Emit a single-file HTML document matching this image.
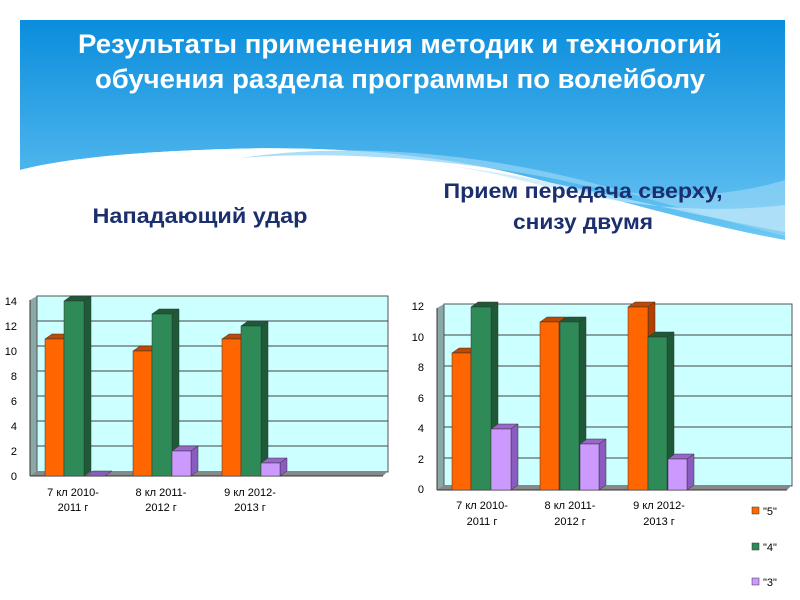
<!DOCTYPE html>
<html><head><meta charset="utf-8"><style>
body{margin:0;width:800px;height:600px;background:#fff;overflow:hidden}
svg{display:block}
</style></head><body>
<svg width="800" height="600" xmlns="http://www.w3.org/2000/svg" font-family="Liberation Sans, sans-serif">
<defs>
<linearGradient id="hb" x1="0" y1="0" x2="0" y2="1">
<stop offset="0" stop-color="#0a8ddc"/><stop offset="1" stop-color="#6cc7f4"/>
</linearGradient>
</defs>
<path d="M20 20 H785 V240 C700 225 620 200 520 175 C420 150 300 145 200 150 C120 153 60 160 20 170 Z" fill="url(#hb)"/>
<path d="M20 170 C60 160 120 153 200 150 C300 145 420 150 520 175 C620 200 700 225 785 240 V250 H20Z" fill="#fff"/>
<path d="M240 158 C350 142 480 152 600 185 C680 208 740 225 785 236 V180 C720 200 640 200 560 180 C460 160 340 150 240 158Z" fill="#8fd3f6" opacity="0.75"/>
<path d="M440 165 C540 175 640 205 785 232 L785 205 C700 215 620 205 540 185 C500 175 470 168 440 165Z" fill="#bfe7fa" opacity="0.7"/>
<g font-family="Liberation Sans, 'DejaVu Sans', sans-serif" font-weight="bold" text-anchor="middle">
<text x="400" y="53" fill="#fff" font-size="27" textLength="644" lengthAdjust="spacingAndGlyphs">Результаты применения методик и технологий</text>
<text x="400" y="88" fill="#fff" font-size="27" textLength="610" lengthAdjust="spacingAndGlyphs">обучения раздела программы по волейболу</text>
<text x="200" y="223" fill="#1b2e6e" font-size="21" textLength="215" lengthAdjust="spacingAndGlyphs">Нападающий удар</text>
<text x="583" y="198" fill="#1b2e6e" font-size="21" textLength="279" lengthAdjust="spacingAndGlyphs">Прием передача сверху,</text>
<text x="583" y="229" fill="#1b2e6e" font-size="21" textLength="140" lengthAdjust="spacingAndGlyphs">снизу двумя</text>
</g>

<!-- Left chart -->
<g>
<polygon points="30,300 37,296 37,472 30,476" fill="#8aa8a8"/>
<rect x="37" y="296" width="351" height="176" fill="#ccffff" stroke="#555" stroke-width="1"/>
<g stroke="#444" stroke-width="1">
<line x1="37" y1="321" x2="388" y2="321"/><line x1="37" y1="346" x2="388" y2="346"/>
<line x1="37" y1="371" x2="388" y2="371"/><line x1="37" y1="396" x2="388" y2="396"/>
<line x1="37" y1="421" x2="388" y2="421"/><line x1="37" y1="446" x2="388" y2="446"/>
</g>
<polygon points="30,476 37,471 388,471 383,476" fill="#888"/>
<line x1="30" y1="476" x2="383" y2="476" stroke="#333"/>
<line x1="30" y1="300" x2="30" y2="476" stroke="#333"/>
<g font-size="11" fill="#000" text-anchor="end">
<text x="17" y="305">14</text><text x="17" y="330">12</text><text x="17" y="355">10</text>
<text x="17" y="380">8</text><text x="17" y="405">6</text><text x="17" y="430">4</text>
<text x="17" y="455">2</text><text x="17" y="480">0</text>
</g>
<g font-size="11" fill="#000" text-anchor="middle">
<text x="73" y="496">7 кл 2010-</text><text x="73" y="511">2011 г</text>
<text x="161" y="496">8 кл 2011-</text><text x="161" y="511">2012 г</text>
<text x="250" y="496">9 кл 2012-</text><text x="250" y="511">2013 г</text>
</g>
</g>

<!-- Right chart -->
<g>
<polygon points="437,308 444,304 444,486 437,490" fill="#8aa8a8"/>
<rect x="444" y="304" width="348" height="182" fill="#ccffff" stroke="#555"/>
<g stroke="#444">
<line x1="444" y1="335" x2="792" y2="335"/><line x1="444" y1="366" x2="792" y2="366"/>
<line x1="444" y1="396" x2="792" y2="396"/><line x1="444" y1="427" x2="792" y2="427"/>
<line x1="444" y1="458" x2="792" y2="458"/>
</g>
<polygon points="437,490 444,485 792,485 787,490" fill="#888"/>
<line x1="437" y1="490" x2="787" y2="490" stroke="#333"/>
<line x1="437" y1="308" x2="437" y2="490" stroke="#333"/>
<g font-size="11" fill="#000" text-anchor="end">
<text x="424" y="310">12</text><text x="424" y="341">10</text><text x="424" y="371">8</text>
<text x="424" y="402">6</text><text x="424" y="432">4</text><text x="424" y="463">2</text><text x="424" y="493">0</text>
</g>
<g font-size="11" fill="#000" text-anchor="middle">
<text x="482" y="509">7 кл 2010-</text><text x="482" y="525">2011 г</text>
<text x="570" y="509">8 кл 2011-</text><text x="570" y="525">2012 г</text>
<text x="659" y="509">9 кл 2012-</text><text x="659" y="525">2013 г</text>
</g>
<rect x="752" y="507" width="7" height="7" fill="#ff6600" stroke="#333" stroke-width=".5"/>
<rect x="752" y="543" width="7" height="7" fill="#2e8b57" stroke="#333" stroke-width=".5"/>
<rect x="752" y="578" width="7" height="7" fill="#cc99ff" stroke="#333" stroke-width=".5"/>
<g font-size="11"><text x="763" y="515">"5"</text><text x="763" y="551">"4"</text><text x="763" y="586">"3"</text></g>
</g>

<g stroke="#333" stroke-width=".5">
<polygon points="45,339 52,334 71,334 64,339" fill="#c04800"/><polygon points="64,339 71,334 71,471 64,476" fill="#b34000"/><rect x="45" y="339" width="19" height="137" fill="#ff6600"/>
<polygon points="64,301 71,296 91,296 84,301" fill="#1d5a38"/><polygon points="84,301 91,296 91,471 84,476" fill="#1d5a38"/><rect x="64" y="301" width="20" height="175" fill="#2e8b57"/>
<polygon points="86,476 93,471 112,471 105,476" fill="#8a5cc0"/>
<polygon points="133,351 140,346 159,346 152,351" fill="#c04800"/><polygon points="152,351 159,346 159,471 152,476" fill="#b34000"/><rect x="133" y="351" width="19" height="125" fill="#ff6600"/>
<polygon points="152,314 159,309 179,309 172,314" fill="#1d5a38"/><polygon points="172,314 179,309 179,471 172,476" fill="#1d5a38"/><rect x="152" y="314" width="20" height="162" fill="#2e8b57"/>
<polygon points="172,451 179,446 198,446 191,451" fill="#9966cc"/><polygon points="191,451 198,446 198,471 191,476" fill="#8a5cc0"/><rect x="172" y="451" width="19" height="25" fill="#cc99ff"/>
<polygon points="222,339 229,334 248,334 241,339" fill="#c04800"/><polygon points="241,339 248,334 248,471 241,476" fill="#b34000"/><rect x="222" y="339" width="19" height="137" fill="#ff6600"/>
<polygon points="241,326 248,321 268,321 261,326" fill="#1d5a38"/><polygon points="261,326 268,321 268,471 261,476" fill="#1d5a38"/><rect x="241" y="326" width="20" height="150" fill="#2e8b57"/>
<polygon points="261,463 268,458 287,458 280,463" fill="#9966cc"/><polygon points="280,463 287,458 287,471 280,476" fill="#8a5cc0"/><rect x="261" y="463" width="19" height="13" fill="#cc99ff"/>
<polygon points="452,353 459,348 478,348 471,353" fill="#c04800"/><polygon points="471,353 478,348 478,485 471,490" fill="#b34000"/><rect x="452" y="353" width="19" height="137" fill="#ff6600"/>
<polygon points="471,307 478,302 498,302 491,307" fill="#1d5a38"/><polygon points="491,307 498,302 498,485 491,490" fill="#1d5a38"/><rect x="471" y="307" width="20" height="183" fill="#2e8b57"/>
<polygon points="491,429 498,424 518,424 511,429" fill="#9966cc"/><polygon points="511,429 518,424 518,485 511,490" fill="#8a5cc0"/><rect x="491" y="429" width="20" height="61" fill="#cc99ff"/>
<polygon points="540,322 547,317 566,317 559,322" fill="#c04800"/><polygon points="559,322 566,317 566,485 559,490" fill="#b34000"/><rect x="540" y="322" width="19" height="168" fill="#ff6600"/>
<polygon points="560,322 567,317 586,317 579,322" fill="#1d5a38"/><polygon points="579,322 586,317 586,485 579,490" fill="#1d5a38"/><rect x="560" y="322" width="19" height="168" fill="#2e8b57"/>
<polygon points="580,444 587,439 606,439 599,444" fill="#9966cc"/><polygon points="599,444 606,439 606,485 599,490" fill="#8a5cc0"/><rect x="580" y="444" width="19" height="46" fill="#cc99ff"/>
<polygon points="628,307 635,302 655,302 648,307" fill="#c04800"/><polygon points="648,307 655,302 655,485 648,490" fill="#b34000"/><rect x="628" y="307" width="20" height="183" fill="#ff6600"/>
<polygon points="648,337 655,332 674,332 667,337" fill="#1d5a38"/><polygon points="667,337 674,332 674,485 667,490" fill="#1d5a38"/><rect x="648" y="337" width="19" height="153" fill="#2e8b57"/>
<polygon points="668,459 675,454 694,454 687,459" fill="#9966cc"/><polygon points="687,459 694,454 694,485 687,490" fill="#8a5cc0"/><rect x="668" y="459" width="19" height="31" fill="#cc99ff"/>
</g>
</svg>
</body></html>
